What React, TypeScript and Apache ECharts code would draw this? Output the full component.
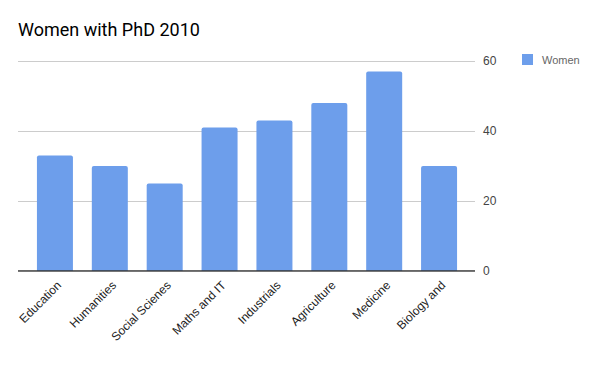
import React, { useEffect, useRef } from "react";
import * as echarts from "echarts";

const categories = ["Education", "Humanities", "Social Scienes", "Maths and IT", "Industrials", "Agriculture", "Medicine", "Biology and"];
const women = [33, 30, 25, 41, 43, 48, 57, 30];
const yTicks = [0, 20, 40, 60];

export default function App() {
  const ref = useRef<HTMLDivElement>(null);
  useEffect(() => {
    if (!ref.current) return;
    const chart = echarts.init(ref.current, null, { renderer: "svg" });
    const yMax = yTicks[yTicks.length - 1];
    const labelFont = "Arial, 'Liberation Sans', sans-serif";
    chart.setOption({
      animation: false,
      textStyle: { fontFamily: labelFont },
      title: {
        text: "Women with PhD 2010",
        left: 18,
        top: 20,
        padding: 0,
        textStyle: { fontSize: 18, fontWeight: "normal", color: "#000", fontFamily: "Roboto" },
      },
      legend: {
        data: ["Women"],
        left: 522,
        top: 54,
        padding: 0,
        orient: "vertical",
        itemWidth: 11,
        itemHeight: 11,
        itemGap: 6,
        icon: "rect",
        textStyle: { fontSize: 11, color: "#666", fontFamily: labelFont, padding: [0, 0, 0, 4] },
      },
      grid: [
        { left: 18, right: 125, top: 61, bottom: 100 },
        { left: 27.5, right: 133.5, top: 61, bottom: 100 },
      ],
      xAxis: [
        {
          gridIndex: 0,
          type: "value",
          min: 0,
          max: 1,
          show: true,
          axisLine: { show: false },
          axisTick: { show: false },
          axisLabel: { show: false },
          splitLine: { show: false },
        },
        {
          gridIndex: 1,
          type: "category",
          data: categories,
          axisLine: { show: false },
          axisTick: { show: false },
          axisLabel: {
            rotate: 45,
            interval: 0,
            fontSize: 12,
            color: "#222",
            margin: 8,
            verticalAlign: "top",
            fontFamily: labelFont,
          },
        },
      ],
      yAxis: [
        {
          gridIndex: 0,
          type: "value",
          position: "right",
          min: 0,
          max: yMax,
          interval: 20,
          axisLine: { show: false },
          axisTick: { show: false },
          axisLabel: { fontSize: 12, color: "#444", margin: 8, fontFamily: labelFont },
          splitLine: { lineStyle: { color: "#cccccc", width: 1 } },
        },
        {
          gridIndex: 1,
          type: "value",
          min: 0,
          max: yMax,
          show: false,
        },
      ],
      series: [
        {
          name: "Women",
          type: "bar",
          xAxisIndex: 1,
          yAxisIndex: 1,
          data: women,
          barWidth: 36,
          itemStyle: { color: "#6d9eeb", borderRadius: [2, 2, 0, 0] },
        },
        {
          name: "axisBase",
          type: "line",
          xAxisIndex: 0,
          yAxisIndex: 0,
          data: [[0, 0], [1, 0]],
          symbol: "none",
          lineStyle: { color: "#333", width: 1.5 },
          silent: true,
          z: 5,
        },
      ],
    });
    return () => chart.dispose();
  }, []);
  return <div ref={ref} style={{ width: 600, height: 371, position: "absolute", left: 0, top: 0 }} />;
}
